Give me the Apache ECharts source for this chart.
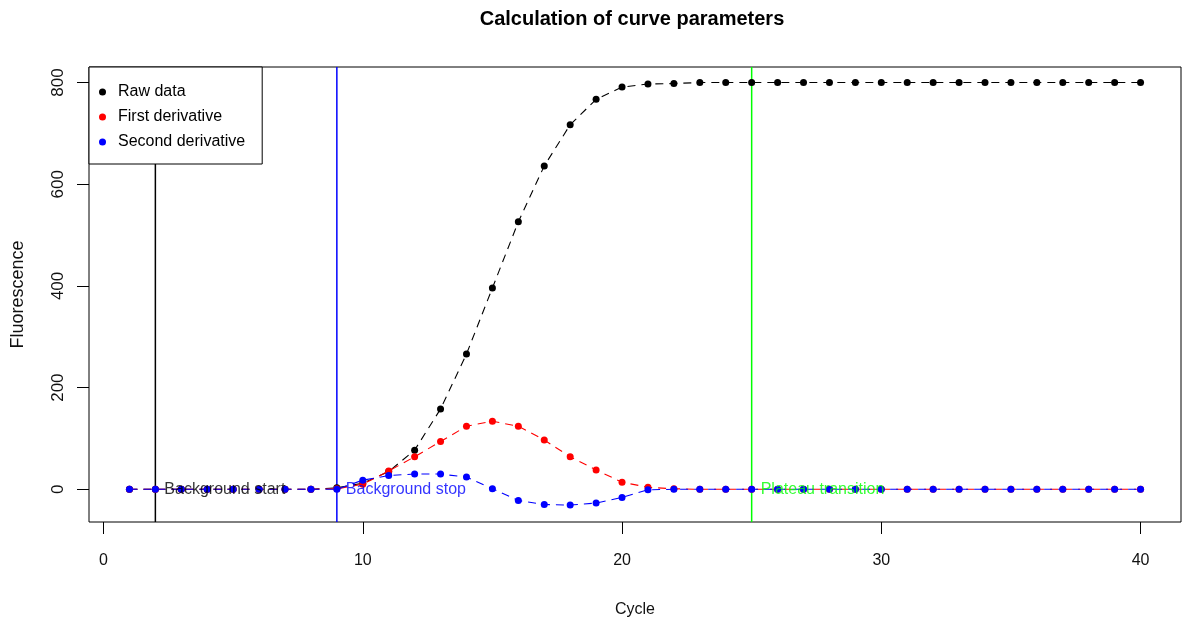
<!DOCTYPE html>
<html>
<head>
<meta charset="utf-8">
<script src="https://cdn.jsdelivr.net/npm/echarts@6/dist/echarts.min.js"></script>
<style>
html,body{margin:0;padding:0;background:#fff;}
#main{width:1184px;height:623px;}
</style>
</head>
<body>
<div id="main"></div>
<script>
// ---- data ----
const cycles = [1,2,3,4,5,6,7,8,9,10,11,12,13,14,15,16,17,18,19,20,21,22,23,24,25,26,27,28,29,30,31,32,33,34,35,36,37,38,39,40];
const rawData = [0,0,0,0,0,0,0,0,3,12,35,77,158,266,396,526,636,717,767,791,797,798,800,800,800,800,800,800,800,800,800,800,800,800,800,800,800,800,800,800];
const firstDerivative = [0,0,0,0,0,0,0,0,1,10,36,64,94,124,134,124,97,64,38,14,4,1,0,0,0,0,0,0,0,0,0,0,0,0,0,0,0,0,0,0];
const secondDerivative = [0,0,0,0,0,0,0,0,0,18,27,30,30,24,1,-22,-30,-31,-27,-16,-1,0,0,0,0,0,0,0,0,0,0,0,0,0,0,0,0,0,0,0];
const seriesNames = ['Raw data','First derivative','Second derivative'];
const markerCycles = [2, 9, 25];
const markerLabels = ['Background start','Background stop','Plateau transition'];
const xTicks = [0,10,20,30,40];
const yTicks = [0,200,400,600,800];
const xRange = [-0.56, 41.56];
const yRange = [-64.3, 830.5];

const FONT = '"Liberation Sans", Arial, sans-serif';
const colors = ['#000000','#ff0000','#0000ff'];
const markerColors = ['#000000','#0000ff','#00ff00'];

function pairs(ys){ return cycles.map((c,i)=>[c, ys[i]]); }

function lineSeries(name, ys, color, z){
  return {
    name: name, type: 'line', data: pairs(ys), z: z,
    symbol: 'circle', symbolSize: 7, showSymbol: true,
    itemStyle: {color: color},
    lineStyle: {color: color, width: 1.1, type: [8,6]},
    animation: false, silent: true
  };
}

function markerSeries(i){
  return {
    name: markerLabels[i], type: 'line', z: 2, silent: true, animation: false,
    data: [[markerCycles[i], yRange[0]], [markerCycles[i], yRange[1]]],
    symbol: 'none', showSymbol: false,
    itemStyle: {color: markerColors[i]},
    lineStyle: {color: markerColors[i], width: 1.5, type: 'solid'}
  };
}

const chart = echarts.init(document.getElementById('main'));
const option = {
  animation: false,
  backgroundColor: '#fff',
  grid: {left: 89, right: 3, top: 67, bottom: 101, show: true, borderColor: '#000', borderWidth: 1, backgroundColor: 'transparent'},
  graphic: [{
    type: 'text',
    x: 632, y: 19,
    style: {text: 'Calculation of curve parameters', font: 'bold 20px ' + FONT, fill: '#000', textAlign: 'center', textVerticalAlign: 'middle'}
  }],
  legend: {
    orient: 'vertical', left: 89, top: 67, z: 10,
    padding: [16, 17, 13, 10],
    itemGap: 7, itemWidth: 7, itemHeight: 7, icon: 'circle',
    backgroundColor: '#fff', borderColor: '#000', borderWidth: 1,
    textStyle: {fontFamily: FONT, fontSize: 16, color: '#000', padding: [0,0,0,7], lineHeight: 18},
    data: seriesNames
  },
  xAxis: {
    type: 'value', min: xRange[0], max: xRange[1],
    axisLine: {show: false, onZero: false},
    axisTick: {show: true, inside: false, length: 12, lineStyle: {color: '#000'}, customValues: xTicks},
    axisLabel: {show: true, margin: 31, fontFamily: FONT, fontSize: 16, color: '#111', customValues: xTicks},
    splitLine: {show: false},
    name: 'Cycle', nameLocation: 'middle', nameGap: 80,
    nameTextStyle: {fontFamily: FONT, fontSize: 16, color: '#111'}
  },
  yAxis: {
    type: 'value', min: yRange[0], max: yRange[1],
    axisLine: {show: false, onZero: false},
    axisTick: {show: true, inside: false, length: 12, lineStyle: {color: '#000'}, customValues: yTicks},
    axisLabel: {show: true, rotate: 90, margin: 22, fontFamily: FONT, fontSize: 17, color: '#111', customValues: yTicks},
    splitLine: {show: false},
    name: 'Fluorescence', nameLocation: 'middle', nameGap: 62, nameRotate: 90,
    nameTextStyle: {fontFamily: FONT, fontSize: 18, color: '#111'}
  },
  series: [
    markerSeries(0), markerSeries(1), markerSeries(2),
    lineSeries(seriesNames[0], rawData, colors[0], 3),
    lineSeries(seriesNames[1], firstDerivative, colors[1], 4),
    lineSeries(seriesNames[2], secondDerivative, colors[2], 5),
    {
      type: 'scatter', z: 6, silent: true, symbolSize: 0,
      data: markerCycles.map((c,i)=>({
        value: [c, 0],
        label: {show: true, position: 'right', distance: 9, formatter: markerLabels[i],
                color: markerColors[i], fontFamily: FONT, fontSize: 16}
      }))
    }
  ]
};
chart.setOption(option);
</script>
</body>
</html>
